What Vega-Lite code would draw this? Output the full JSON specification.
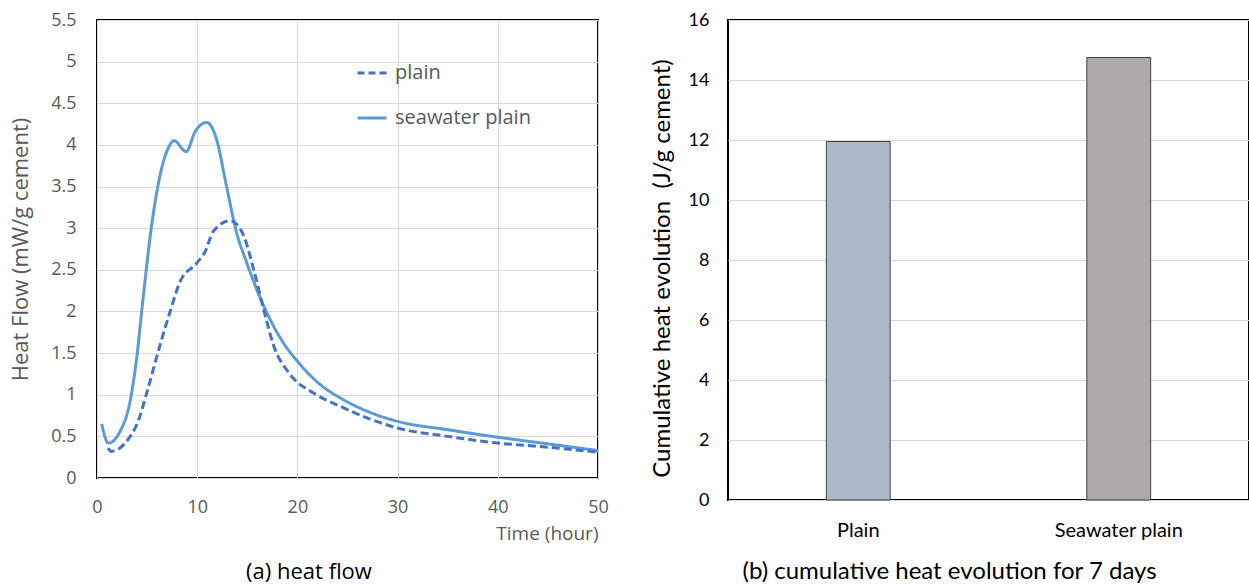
{
  "$schema": "https://vega.github.io/schema/vega-lite/v6.json",
  "background": "white",
  "padding": {"left": 8, "top": 10, "right": 0, "bottom": 0},
  "spacing": 39,
  "config": {
    "view": {"stroke": "black", "strokeWidth": 2}
  },
  "resolve": {"scale": {"color": "independent"}},
  "hconcat": [
    {
      "width": 501,
      "height": 458,
      "title": {"text": "(a) heat flow", "orient": "bottom", "frame": "bounds", "anchor": "middle", "font": "Open Sans", "fontSize": 22, "fontWeight": "normal", "color": "black", "offset": 19},
      "data": {"values": [
        {"t": 0.47, "v": 0.65, "s": "seawater plain"},
        {"t": 1.13, "v": 0.42, "s": "seawater plain"},
        {"t": 2.3, "v": 0.56, "s": "seawater plain"},
        {"t": 3.3, "v": 0.92, "s": "seawater plain"},
        {"t": 3.96, "v": 1.44, "s": "seawater plain"},
        {"t": 4.6, "v": 2.16, "s": "seawater plain"},
        {"t": 5.46, "v": 3.04, "s": "seawater plain"},
        {"t": 6.3, "v": 3.64, "s": "seawater plain"},
        {"t": 7.1, "v": 3.96, "s": "seawater plain"},
        {"t": 7.7, "v": 4.05, "s": "seawater plain"},
        {"t": 8.9, "v": 3.92, "s": "seawater plain"},
        {"t": 9.8, "v": 4.16, "s": "seawater plain"},
        {"t": 10.95, "v": 4.27, "s": "seawater plain"},
        {"t": 11.9, "v": 4.08, "s": "seawater plain"},
        {"t": 12.9, "v": 3.52, "s": "seawater plain"},
        {"t": 13.9, "v": 2.96, "s": "seawater plain"},
        {"t": 14.9, "v": 2.6, "s": "seawater plain"},
        {"t": 16.3, "v": 2.16, "s": "seawater plain"},
        {"t": 18.3, "v": 1.68, "s": "seawater plain"},
        {"t": 20.3, "v": 1.36, "s": "seawater plain"},
        {"t": 22.3, "v": 1.12, "s": "seawater plain"},
        {"t": 24.3, "v": 0.96, "s": "seawater plain"},
        {"t": 27, "v": 0.8, "s": "seawater plain"},
        {"t": 30, "v": 0.68, "s": "seawater plain"},
        {"t": 35, "v": 0.58, "s": "seawater plain"},
        {"t": 40, "v": 0.49, "s": "seawater plain"},
        {"t": 45, "v": 0.41, "s": "seawater plain"},
        {"t": 50, "v": 0.33, "s": "seawater plain"},
        {"t": 1.1, "v": 0.36, "s": "plain"},
        {"t": 1.45, "v": 0.32, "s": "plain"},
        {"t": 2.95, "v": 0.44, "s": "plain"},
        {"t": 4.1, "v": 0.68, "s": "plain"},
        {"t": 5.1, "v": 1.08, "s": "plain"},
        {"t": 6.3, "v": 1.6, "s": "plain"},
        {"t": 7.3, "v": 2.0, "s": "plain"},
        {"t": 8.3, "v": 2.36, "s": "plain"},
        {"t": 9.95, "v": 2.58, "s": "plain"},
        {"t": 10.8, "v": 2.72, "s": "plain"},
        {"t": 11.6, "v": 2.96, "s": "plain"},
        {"t": 13.3, "v": 3.09, "s": "plain"},
        {"t": 14.6, "v": 2.92, "s": "plain"},
        {"t": 15.6, "v": 2.52, "s": "plain"},
        {"t": 16.6, "v": 2.04, "s": "plain"},
        {"t": 17.6, "v": 1.6, "s": "plain"},
        {"t": 19.3, "v": 1.24, "s": "plain"},
        {"t": 21.6, "v": 1.02, "s": "plain"},
        {"t": 24.3, "v": 0.86, "s": "plain"},
        {"t": 27, "v": 0.72, "s": "plain"},
        {"t": 30, "v": 0.6, "s": "plain"},
        {"t": 35, "v": 0.5, "s": "plain"},
        {"t": 40, "v": 0.42, "s": "plain"},
        {"t": 45, "v": 0.37, "s": "plain"},
        {"t": 50, "v": 0.31, "s": "plain"}
      ]},
      "mark": {"type": "line", "interpolate": "monotone", "strokeWidth": 3},
      "encoding": {
        "x": {"field": "t", "type": "quantitative", "scale": {"domain": [0, 50], "nice": false},
          "axis": {"values": [0, 10, 20, 30, 40, 50], "title": "Time (hour)", "titleAnchor": "end", "titleAlign": "right", "labelPadding": 20, "ticks": false, "domain": false, "grid": true, "gridColor": "#D9D9D9", "labelFont": "Open Sans", "labelFontSize": 18, "labelColor": "#595959", "titleFont": "Open Sans", "titleFontSize": 19, "titleColor": "#595959", "titleFontWeight": "normal", "titlePadding": 8, "labelFlush": false}},
        "y": {"field": "v", "type": "quantitative", "scale": {"domain": [0, 5.5], "nice": false},
          "axis": {"values": [0, 0.5, 1, 1.5, 2, 2.5, 3, 3.5, 4, 4.5, 5, 5.5], "format": "~g", "title": "Heat Flow (mW/g cement)", "labelPadding": 21, "ticks": false, "domain": false, "grid": true, "gridColor": "#D9D9D9", "labelFont": "Open Sans", "labelFontSize": 18, "labelColor": "#595959", "titleFont": "Open Sans", "titleFontSize": 22, "titleColor": "#595959", "titleFontWeight": "normal", "titlePadding": 18, "labelFlush": false}},
        "color": {"field": "s", "type": "nominal", "scale": {"domain": ["plain", "seawater plain"], "range": ["#4472C4", "#5B9BD5"]},
          "legend": {"orient": "none", "legendX": 259, "legendY": 37, "title": null, "labelFont": "Open Sans", "labelFontSize": 20, "labelColor": "#595959", "symbolType": "stroke", "symbolSize": 841, "symbolStrokeWidth": 3, "rowPadding": 19, "labelOffset": 7, "padding": 0,
            "encode": {"symbols": {"update": {"strokeDash": {"signal": "datum.value == 'plain' ? [7, 4] : [1, 0]"}}}}}},
        "strokeDash": {"field": "s", "type": "nominal", "scale": {"domain": ["plain", "seawater plain"], "range": [[8, 4], [1, 0]]}, "legend": null}
      }
    },
    {
      "width": 521,
      "height": 480,
      "title": {"text": "(b) cumulative heat evolution for 7 days", "orient": "bottom", "frame": "bounds", "anchor": "middle", "font": "Lato", "fontSize": 24, "fontWeight": "normal", "color": "black", "offset": 20},
      "data": {"values": [
        {"c": "Plain", "h": 11.95},
        {"c": "Seawater plain", "h": 14.75}
      ]},
      "mark": {"type": "bar", "width": {"band": 0.245}, "stroke": "#404040", "strokeWidth": 1},
      "encoding": {
        "x": {"field": "c", "type": "nominal", "sort": null, "scale": {"paddingInner": 0, "paddingOuter": 0},
          "axis": {"title": null, "labelAngle": 0, "ticks": false, "domain": false, "labelPadding": 20, "labelFont": "Lato", "labelFontSize": 20, "labelColor": "black"}},
        "y": {"field": "h", "type": "quantitative", "scale": {"domain": [0, 16], "nice": false},
          "axis": {"values": [0, 2, 4, 6, 8, 10, 12, 14, 16], "title": "Cumulative heat evolution\u00a0\u00a0(J/g cement)", "titleY": 248, "labelPadding": 19, "ticks": false, "domain": false, "grid": true, "gridColor": "#D9D9D9", "labelFont": "Lato", "labelFontSize": 18, "labelColor": "black", "titleFont": "Lato", "titleFontSize": 24, "titleColor": "black", "titleFontWeight": "normal", "titlePadding": 14}},
        "color": {"field": "c", "type": "nominal", "scale": {"domain": ["Plain", "Seawater plain"], "range": ["#ADB9CA", "#AEAAAA"]}, "legend": null}
      }
    }
  ]
}
